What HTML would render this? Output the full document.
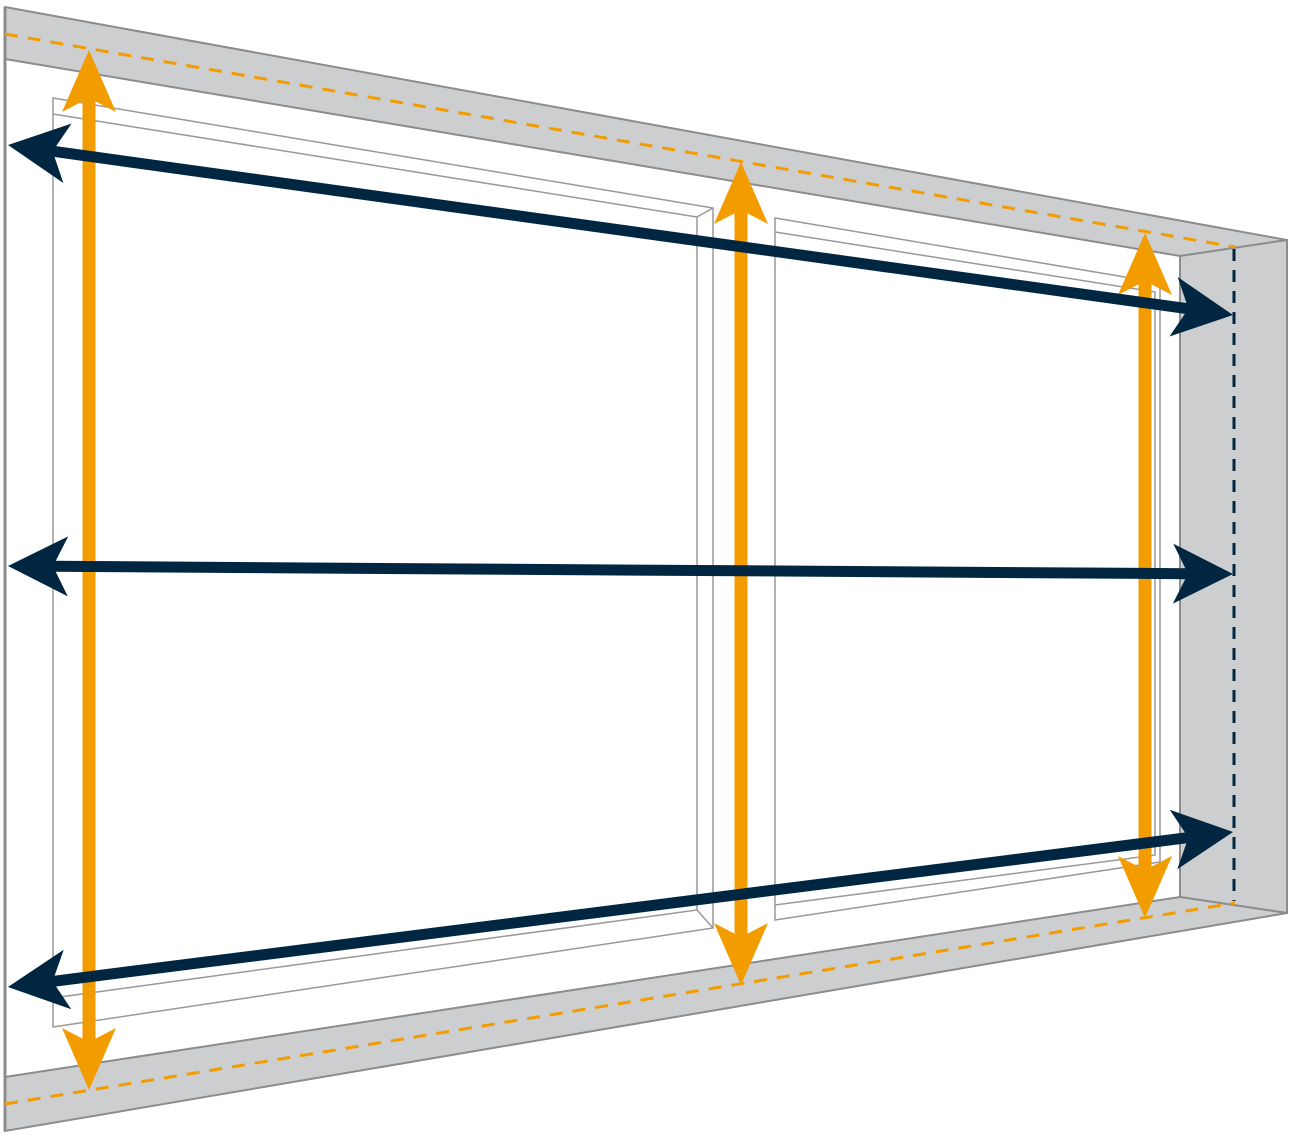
<!DOCTYPE html>
<html><head><meta charset="utf-8"><style>html,body{margin:0;padding:0;background:#fff}svg{display:block}</style></head>
<body>
<svg width="1292" height="1137" viewBox="0 0 1292 1137" xmlns="http://www.w3.org/2000/svg">
<defs>
<marker id="nv" markerUnits="userSpaceOnUse" markerWidth="70" markerHeight="70" viewBox="-65 -35 70 70" refX="-45" refY="0" orient="auto-start-reverse">
<path d="M0,0 L-60,-30 L-45,0 L-60,30 Z" fill="#002642"/></marker>
<marker id="or" markerUnits="userSpaceOnUse" markerWidth="70" markerHeight="70" viewBox="-65 -35 70 70" refX="-48" refY="0" orient="auto-start-reverse">
<path d="M0,0 L-62,-27 L-48,0 L-62,27 Z" fill="#f39c00"/></marker>
</defs>
<g fill="#cdcecf" stroke="#8c8c8c" stroke-width="2">
<polygon points="5,7 1287,240 1180,256 5,59"/>
<polygon points="1180,256 1287,240 1287,913 1180,897"/>
<polygon points="5,1077 1180,897 1287,913 5,1131"/>
</g>
<line x1="5" y1="7" x2="5" y2="1131" stroke="#8c8c8c" stroke-width="3"/>
<g stroke-dasharray="13,10" stroke-width="3" fill="none">
<line x1="5" y1="34" x2="1235" y2="247" stroke="#f39c00"/>
<line x1="5" y1="1104" x2="1235" y2="903" stroke="#f39c00"/>
<line x1="1234" y1="249" x2="1234" y2="901" stroke="#002642" stroke-dasharray="12,9"/>
</g>
<g fill="none" stroke="#999" stroke-width="1.5">
<polygon points="53,98 713,208 713,928 53,1027"/>
<polyline points="53,114 697,217 697,910 60,997"/>
<line x1="697" y1="217" x2="713" y2="208"/>
<line x1="697" y1="910" x2="713" y2="928"/>
<polygon points="775,218 1160,283 1160,862 775,920"/>
<polyline points="775,232 1155,292 1155,855 775,905"/>
</g>
<g stroke="#f39c00" stroke-width="13" marker-start="url(#or)" marker-end="url(#or)">
<line x1="89" y1="98" x2="89" y2="1042"/>
<line x1="741" y1="210" x2="741" y2="937"/>
<line x1="1145" y1="281" x2="1145" y2="870"/>
</g>
<g stroke="#002642" stroke-width="11" marker-start="url(#nv)" marker-end="url(#nv)">
<line x1="52.6" y1="151.2" x2="1188.4" y2="308.8"/>
<line x1="53" y1="566.3" x2="1188" y2="573.7"/>
<line x1="52.6" y1="981.4" x2="1188.4" y2="837.6"/>
</g>
</svg>
</body></html>
